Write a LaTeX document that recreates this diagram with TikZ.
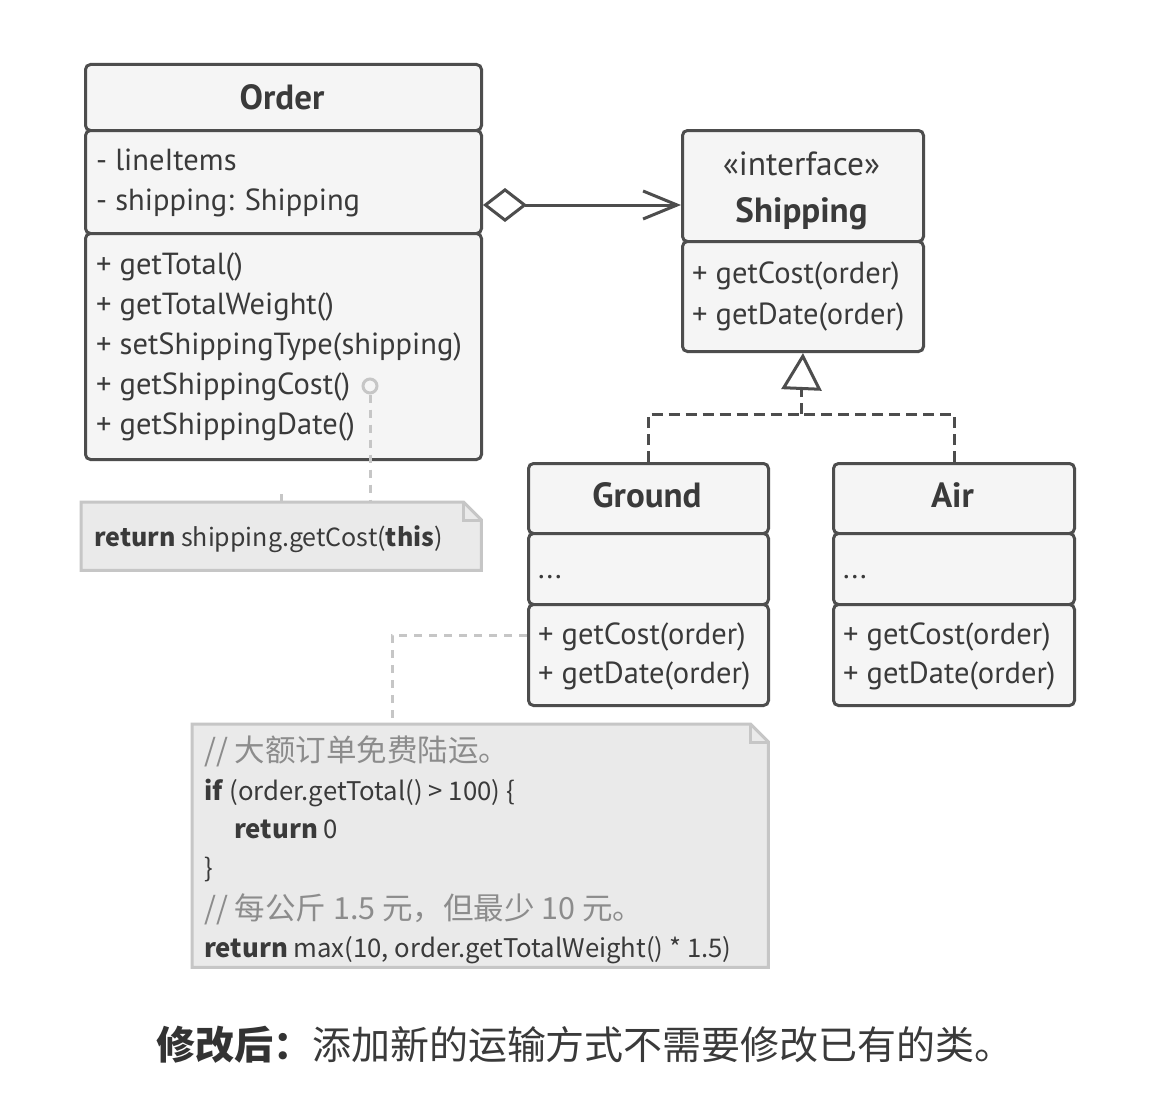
\documentclass[tikz,border=0pt]{standalone}
\usepackage{fontspec}
\setmainfont{PT Sans}
\newfontfamily\cjk{Noto Sans CJK SC}
\usetikzlibrary{arrows.meta,calc}
\definecolor{linec}{HTML}{4D4D4D}
\definecolor{boxfill}{HTML}{F5F5F5}
\definecolor{txt}{HTML}{3A3A3A}
\definecolor{notefill}{HTML}{EAEAEA}
\definecolor{notedraw}{HTML}{C6C6C6}
\definecolor{cmt}{HTML}{8C8C8C}
\begin{document}
\begin{tikzpicture}[x=1pt,y=-1pt,
  comp/.style={draw=linec, line width=3pt, fill=boxfill, rounded corners=5pt, anchor=north west, inner sep=0pt},
  ttl/.style={font=\fontsize{35}{40}\selectfont\bfseries, text=txt, anchor=base, inner sep=0pt},
  stereo/.style={font=\fontsize{33.5}{38}\selectfont, text=txt, anchor=base, inner sep=0pt},
  mem/.style={font=\fontsize{30.5}{36}\selectfont, text=txt, anchor=base west, inner sep=0pt},
  notetxt/.style={font=\cjk\fontsize{25.7}{30}\selectfont, text=txt, anchor=base west, inner sep=0pt},
  cmtxt/.style={font=\cjk\fontsize{30.5}{34}\selectfont, text=cmt, anchor=base west, inner sep=0pt},
  notebox/.style={draw=notedraw, line width=3pt, fill=notefill, line join=miter},
  notelink/.style={draw=notedraw, line width=3pt, dash pattern=on 8pt off 7pt},
  realize/.style={draw=linec, line width=3pt, dash pattern=on 11pt off 6pt},
  holder/.style={anchor=north west, inner sep=0pt, draw=none, fill=none}
]
\useasboundingbox (0,0) rectangle (1160,1116);
\fill[white] (0,0) rectangle (1160,1116);

% ---------- Order ----------
\node[comp, minimum width=396pt, minimum height=66pt] (orderH) at (84,63) {};
\node[comp, minimum width=396pt, minimum height=103pt] (orderA) at (84,129) {};
\node[comp, minimum width=396pt, minimum height=226pt] (orderM) at (84,232) {};
\node[ttl] (orderT) at (282,110) {Order};
\node[mem] (oa1) at (96,170) {- lineItems};
\node[mem] (oa2) at (96,210) {- shipping: Shipping};
\node[mem] (om1) at (96,274) {+ getTotal()};
\node[mem] (om2) at (96,314) {+ getTotalWeight()};
\node[mem] (om3) at (96,354) {+ setShippingType(shipping)};
\node[mem] (om4) at (96,394) {+ getShippingCost()};
\node[mem] (om5) at (96,434) {+ getShippingDate()};

% ---------- Shipping ----------
\node[comp, minimum width=241pt, minimum height=111pt] (shipH) at (681,129) {};
\node[comp, minimum width=241pt, minimum height=110pt] (shipM) at (681,240) {};
\node[stereo] (shipS) at (801.5,175) {«interface»};
\node[ttl] (shipT) at (801.5,222) {Shipping};
\node[mem] (sm1) at (692,283) {+ getCost(order)};
\node[mem] (sm2) at (692,324) {+ getDate(order)};

% ---------- Ground ----------
\node[comp, minimum width=240pt, minimum height=70pt] (groundH) at (527,462) {};
\node[comp, minimum width=240pt, minimum height=71pt] (groundA) at (527,532) {};
\node[comp, minimum width=240pt, minimum height=101pt] (groundM) at (527,603) {};
\node[ttl] (groundT) at (647,507) {Ground};
\node[mem] (ga1) at (538,578) {...};
\node[mem] (gm1) at (538,644) {+ getCost(order)};
\node[mem] (gm2) at (538,683) {+ getDate(order)};

% ---------- Air ----------
\node[comp, minimum width=241pt, minimum height=70pt] (airH) at (832,462) {};
\node[comp, minimum width=241pt, minimum height=71pt] (airA) at (832,532) {};
\node[comp, minimum width=241pt, minimum height=101pt] (airM) at (832,603) {};
\node[ttl] (airT) at (952.5,507) {Air};
\node[mem] (aa1) at (843,578) {...};
\node[mem] (am1) at (843,644) {+ getCost(order)};
\node[mem] (am2) at (843,683) {+ getDate(order)};

% ---------- aggregation ----------
\coordinate (aggY) at (0,205);
\draw[draw=linec, line width=3pt,
  {Diamond[open, fill=white, length=44pt 0, width=34pt 0]}-{Straight Barb[length=34pt 0, width=28pt 0]}]
  (orderA.east |- aggY) -- (shipH.west |- aggY);

% ---------- realization ----------
\coordinate (junc) at (801.5,414);
\coordinate (trib) at (801.5,389);
\draw[realize] (groundH.north) |- (junc);
\draw[realize] (airH.north) |- (junc);
\draw[realize] (junc) -- (trib);
\draw[draw=linec, line width=3pt, -{Triangle[open, fill=white, length=37pt 0, width=40pt 0]}] (trib) -- (shipM.south);

% ---------- note 1 ----------
\node[holder, minimum width=400pt, minimum height=68pt] (note1) at (81,502) {};
\draw[notebox] (note1.north west) -- ([xshift=-18pt]note1.north east) -- ([yshift=-18pt]note1.north east)
  -- (note1.south east) -- (note1.south west) -- cycle;
\draw[notebox, fill=none] ([xshift=-18pt]note1.north east) -- ([xshift=-18pt,yshift=-18pt]note1.north east) -- ([yshift=-18pt]note1.north east);
\node[notetxt, font=\cjk\fontsize{25}{30}\selectfont] (n1t) at (94,546) {\textbf{return} shipping.getCost(\textbf{this})};
\coordinate (tick) at (281,494);
\draw[draw=notedraw, line width=3pt] (tick) -- (tick |- note1.north);
\node[draw=notedraw, line width=3pt, circle, minimum size=14pt, inner sep=0pt, fill=boxfill] (pin) at (370,386) {};
\draw[notelink] (pin.south) -- (pin.south |- note1.north);

% ---------- note 2 ----------
\node[holder, minimum width=576pt, minimum height=243pt] (note2) at (192,724) {};
\draw[notebox] (note2.north west) -- ([xshift=-18pt]note2.north east) -- ([yshift=-18pt]note2.north east)
  -- (note2.south east) -- (note2.south west) -- cycle;
\draw[notebox, fill=none] ([xshift=-18pt]note2.north east) -- ([xshift=-18pt,yshift=-18pt]note2.north east) -- ([yshift=-18pt]note2.north east);
\node[cmtxt] (n2a) at (204,761) {// 大额订单免费陆运。};
\node[notetxt] (n2b) at (204,800) {\textbf{if} (order.getTotal() > 100) \{};
\node[notetxt] (n2c) at (234,838) {\textbf{return} 0};
\node[notetxt] (n2d) at (204,877) {\}};
\node[cmtxt] (n2e) at (204,919) {// 每公斤 1.5 元，但最少 10 元。};
\node[notetxt] (n2f) at (204,957) {\textbf{return} max(10, order.getTotalWeight() * 1.5)};
\coordinate (n2y) at (0,635);
\coordinate (n2top) at (392,724);
\draw[notelink] (groundM.west |- n2y) -| (n2top);

% ---------- caption ----------
\node[anchor=base, inner sep=0pt, text=txt, font=\cjk\fontsize{39}{44}\selectfont] (cap) at (585,1059)
  {{\bfseries\color{black!80} 修改后：}添加新的运输方式不需要修改已有的类。};
\end{tikzpicture}
\end{document}
